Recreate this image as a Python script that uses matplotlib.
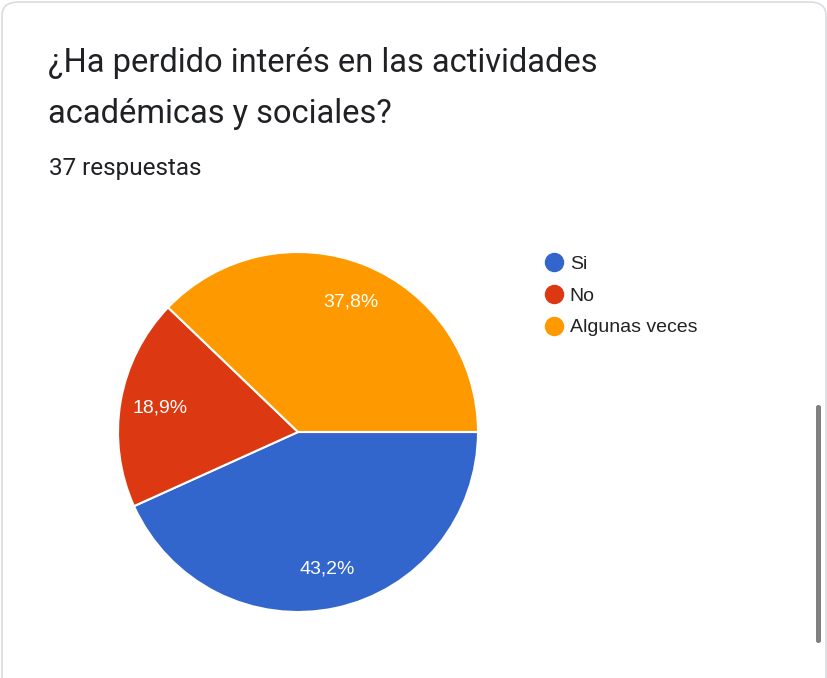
import matplotlib.pyplot as plt
from matplotlib.patches import FancyBboxPatch
from matplotlib.lines import Line2D

title = "¿Ha perdido interés en las actividades\nacadémicas y sociales?"
subtitle = "37 respuestas"
labels = ["Si", "No", "Algunas veces"]
counts = [16, 7, 14]
colors = ["#3366cc", "#dc3912", "#ff9900"]

W, H = 828, 678
fig = plt.figure(figsize=(W / 100, H / 100), dpi=100)
fig.patch.set_facecolor("white")

# card frame and scrollbar, in pixel-ish figure coords
card = FancyBboxPatch((2 / W, -20 / H), 824 / W, 696 / H,
                      boxstyle="round,pad=0,rounding_size=0.02",
                      transform=fig.transFigure, facecolor="white",
                      edgecolor="#dadce0", linewidth=1.2, zorder=-2)
fig.patches.append(card)
bar = FancyBboxPatch((816 / W, (H - 643) / H), 5 / W, 238 / H,
                     boxstyle="round,pad=0,rounding_size=0.003",
                     transform=fig.transFigure, facecolor="#808080",
                     edgecolor="none", zorder=-1)
fig.patches.append(bar)

fig.text(48 / W, 1 - 47 / H, title, fontsize=23.5, family="Roboto",
         color="#202124", va="top", linespacing=1.74)
fig.text(49 / W, 1 - 157 / H, subtitle, fontsize=17.5, family="Roboto",
         color="#202124", va="top")

# pie: center (298, 432), radius 180 px
r = 180
ax = fig.add_axes([(298 - r) / W, (H - 432 - r) / H, 2 * r / W, 2 * r / H])
ax.patch.set_visible(False)
ax.pie(counts, colors=colors, startangle=0, counterclock=False,
       autopct=lambda p: f"{p:.1f}%".replace(".", ","), pctdistance=0.78,
       wedgeprops=dict(edgecolor="white", linewidth=1.5),
       textprops=dict(color="white", fontsize=14, family="Liberation Sans"))
ax.set_xlim(-1, 1)
ax.set_ylim(-1, 1)
ax.set_aspect("equal")

handles = [Line2D([], [], marker="o", linestyle="none", markersize=13,
                  markerfacecolor=c, markeredgecolor=c) for c in colors]
fig.legend(handles, labels, loc="upper left",
           bbox_to_anchor=(530 / W, 1 - 238 / H), frameon=False,
           handlelength=0.7, handletextpad=0.45, labelspacing=0.72,
           prop=dict(family="Liberation Sans", size=14))
for t in fig.legends[0].get_texts():
    t.set_color("#222222")

fig.savefig("out.png", dpi=100)
